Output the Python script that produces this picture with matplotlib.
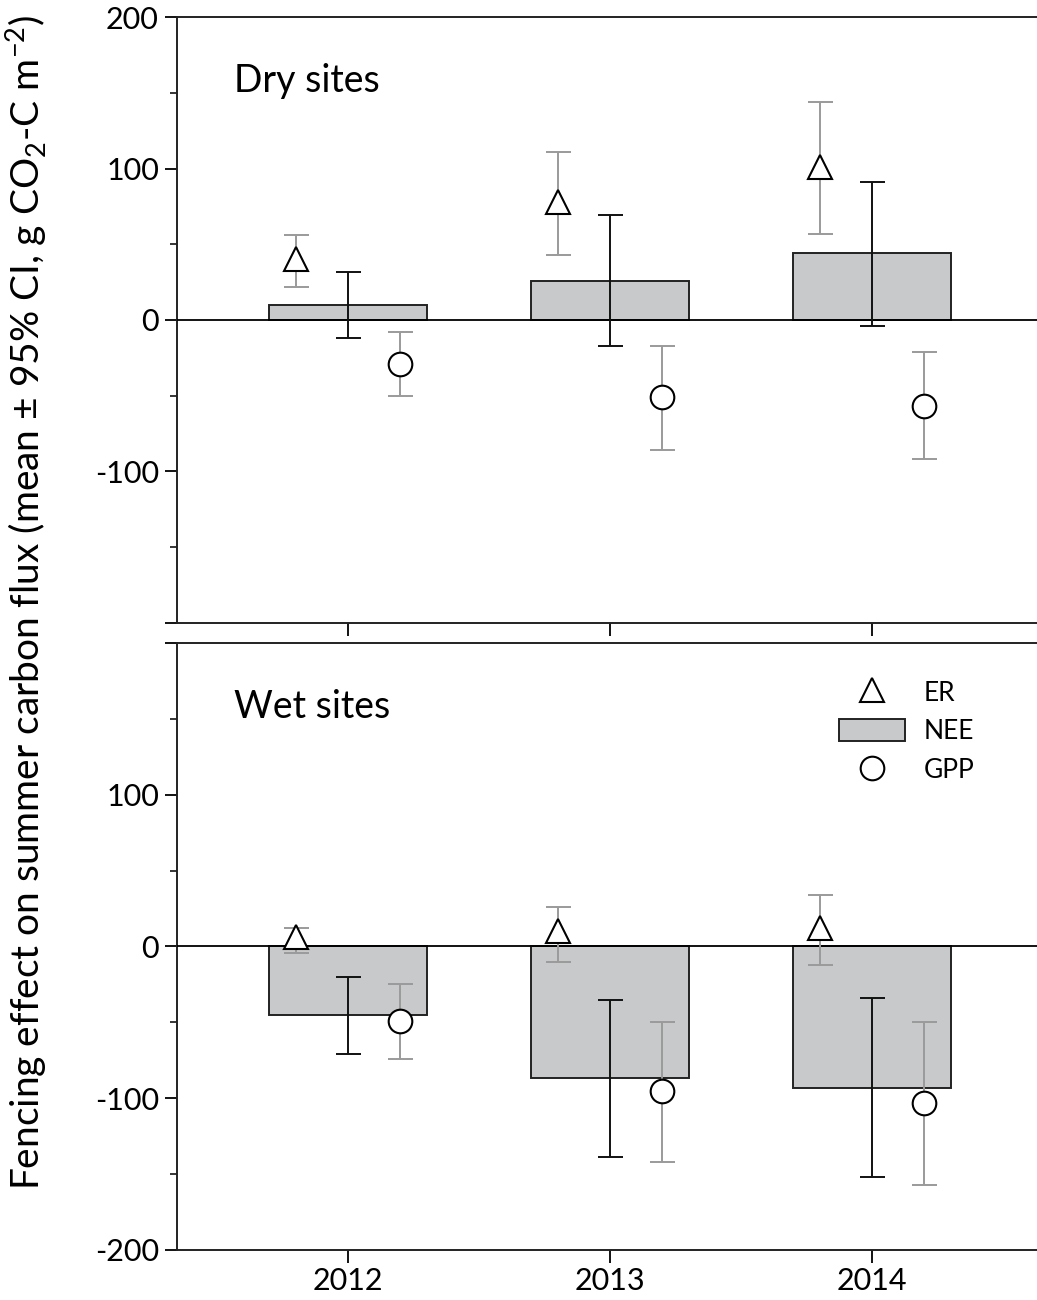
import matplotlib.pyplot as plt
import matplotlib.patches as mpatches
from matplotlib.lines import Line2D
import numpy as np

plt.rcParams['font.family'] = ['Lato', 'DejaVu Sans']
plt.rcParams['mathtext.fontset'] = 'custom'
plt.rcParams['mathtext.rm'] = 'Lato'

years = [2012, 2013, 2014]

# Dry sites
dry_er = [40, 78, 101]
dry_er_lo = [22, 43, 57]
dry_er_hi = [56, 111, 144]
dry_nee = [10, 26, 44]
dry_nee_lo = [-12, -17, -4]
dry_nee_hi = [32, 69, 91]
dry_gpp = [-29, -51, -57]
dry_gpp_lo = [-50, -86, -92]
dry_gpp_hi = [-8, -17, -21]

# Wet sites
wet_er = [6, 10, 12]
wet_er_lo = [-4, -10, -12]
wet_er_hi = [12, 26, 34]
wet_nee = [-45, -87, -93]
wet_nee_lo = [-71, -139, -152]
wet_nee_hi = [-20, -35, -34]
wet_gpp = [-49, -95, -103]
wet_gpp_lo = [-74, -142, -157]
wet_gpp_hi = [-25, -50, -50]

bar_col = '#c8c9cb'
ci_grey = '#9a9a9a'


def yerr(m, lo, hi):
    m = np.array(m)
    return [m - np.array(lo), np.array(hi) - m]


def panel(ax, er, er_lo, er_hi, nee, nee_lo, nee_hi, gpp, gpp_lo, gpp_hi, title):
    x = np.array(years, dtype=float)
    ax.bar(x, nee, width=0.6, color=bar_col, edgecolor='#222222', linewidth=1.4, zorder=2)
    ax.axhline(0, color='black', lw=1.3, zorder=3)
    ax.errorbar(x, nee, yerr=yerr(nee, nee_lo, nee_hi), fmt='none', ecolor='#111111',
                elinewidth=1.4, capsize=9, capthick=1.4, zorder=4)
    ax.errorbar(x - 0.2, er, yerr=yerr(er, er_lo, er_hi), fmt='none', ecolor=ci_grey,
                elinewidth=1.4, capsize=9, capthick=1.4, zorder=4)
    ax.errorbar(x + 0.2, gpp, yerr=yerr(gpp, gpp_lo, gpp_hi), fmt='none', ecolor=ci_grey,
                elinewidth=1.4, capsize=9, capthick=1.4, zorder=4)
    ax.plot(x - 0.2, er, ls='none', marker='^', ms=17, mfc='white', mec='black', mew=1.5, zorder=5)
    ax.plot(x + 0.2, gpp, ls='none', marker='o', ms=17, mfc='white', mec='black', mew=1.5, zorder=5)
    ax.set_xlim(2011.347, 2014.63)
    ax.set_ylim(-200, 200)
    ax.set_yticks([-200, -100, 0, 100, 200])
    ax.set_yticks(np.arange(-150, 200, 100), minor=True)
    ax.set_xticks(years)
    ax.spines['right'].set_visible(False)
    for s in ['left', 'top', 'bottom']:
        ax.spines[s].set_linewidth(1.4)
        ax.spines[s].set_color('#222222')
    ax.tick_params(axis='y', which='major', direction='out', length=9, width=1.3, labelsize=22, pad=4)
    ax.tick_params(axis='y', which='minor', direction='out', length=5, width=1.1)
    ax.tick_params(axis='x', direction='out', length=9, width=1.3, labelsize=22, pad=3)
    ax.text(0.066, 0.895, title, transform=ax.transAxes, fontsize=27, va='center', ha='left')


fig = plt.figure(figsize=(10.37, 13), dpi=100)
ax1 = fig.add_axes([0.1707, 0.5208, 0.8293, 0.4661])
ax2 = fig.add_axes([0.1707, 0.0385, 0.8293, 0.4669])

panel(ax1, dry_er, dry_er_lo, dry_er_hi, dry_nee, dry_nee_lo, dry_nee_hi,
      dry_gpp, dry_gpp_lo, dry_gpp_hi, 'Dry sites')
panel(ax2, wet_er, wet_er_lo, wet_er_hi, wet_nee, wet_nee_lo, wet_nee_hi,
      wet_gpp, wet_gpp_lo, wet_gpp_hi, 'Wet sites')

ax1.set_yticklabels(['', '-100', '0', '100', '200'])
ax1.set_xticklabels([])
ax2.set_yticklabels(['-200', '-100', '0', '100', ''])
ax2.set_xticklabels([str(y) for y in years])

handles = [
    Line2D([], [], ls='none', marker='^', ms=17, mfc='white', mec='black', mew=1.5),
    mpatches.Patch(facecolor=bar_col, edgecolor='#222222', linewidth=1.4),
    Line2D([], [], ls='none', marker='o', ms=17, mfc='white', mec='black', mew=1.5),
]
ax2.legend(handles, ['ER', 'NEE', 'GPP'], loc='upper left', bbox_to_anchor=(0.742, 0.978),
           frameon=False, fontsize=19, handlelength=2.5, handleheight=0.95,
           handletextpad=0.7, labelspacing=0.5)

fig.text(0.026, 0.537,
         'Fencing effect on summer carbon flux (mean ± 95% CI, g CO$_2$-C m$^{-2}$)',
         rotation=90, ha='center', va='center', fontsize=28)

fig.savefig('out.png', dpi=100)
